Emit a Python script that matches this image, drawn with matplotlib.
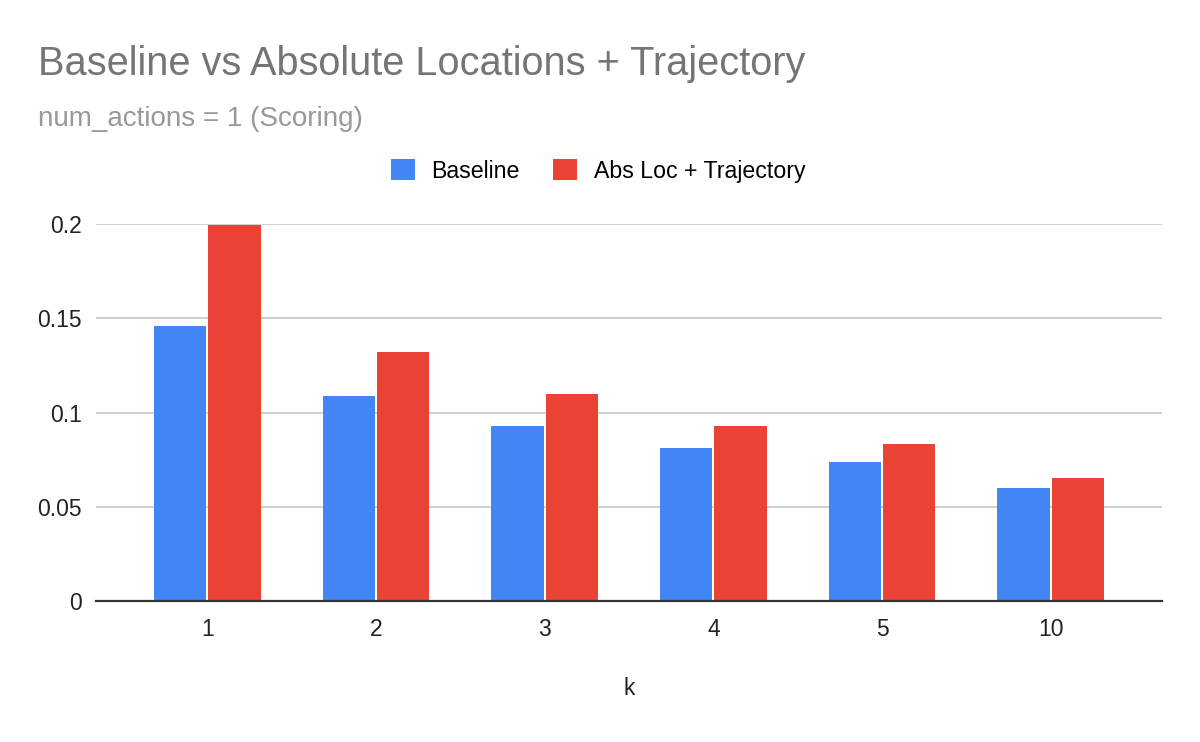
import matplotlib
matplotlib.use("Agg")
import matplotlib.pyplot as plt
import numpy as np

# data
k_labels = ['1', '2', '3', '4', '5', '10']
baseline = [0.1459, 0.1088, 0.0928, 0.0812, 0.0737, 0.0600]
abs_loc_traj = [0.1995, 0.1320, 0.1098, 0.0928, 0.0833, 0.0653]

blue = '#4285F4'
red = '#EA4335'

plt.rcParams['font.family'] = ['Liberation Sans', 'DejaVu Sans']

fig = plt.figure(figsize=(12, 7.42), dpi=100)
ax = fig.add_axes([96/1200, 1-601/742, (1162-96)/1200, (601-224)/742])

x = np.arange(len(k_labels))
w = 0.31
gap = 0.006
ax.bar(x - w/2 - gap, baseline, width=w, color=blue, label='Baseline', zorder=3, clip_on=False)
ax.bar(x + w/2 + gap, abs_loc_traj, width=w, color=red, label='Abs Loc + Trajectory', zorder=3, clip_on=False)

ax.set_xlim(-0.66, 5.66)
ax.set_ylim(0, 0.2)
ax.set_yticks([0, 0.05, 0.1, 0.15, 0.2])
ax.set_yticklabels(['0', '0.05', '0.1', '0.15', '0.2'])
ax.set_xticks(x)
ax.set_xticklabels(k_labels)
ax.tick_params(axis='both', length=0, labelsize=16.5, colors='#222222')
ax.tick_params(axis='x', pad=12)
ax.tick_params(axis='y', pad=10)

ax.grid(axis='y', color='#cccccc', linewidth=1.3, zorder=0)
for s in ['top', 'right', 'left']:
    ax.spines[s].set_visible(False)
ax.spines['bottom'].set_color('#333333')
ax.spines['bottom'].set_linewidth(1.6)
ax.spines['bottom'].set_zorder(4)

ax.set_xlabel('k', fontsize=16.5, color='#222222', labelpad=26)

fig.text(38/1200, 1-64/742, 'Baseline vs Absolute Locations + Trajectory',
         fontsize=28.6, color='#757575', va='center', ha='left')
fig.text(38/1200, 1-119/742, 'num_actions = 1 (Scoring)',
         fontsize=20, color='#999999', va='center', ha='left')

fig.legend(loc='center', bbox_to_anchor=(598/1200, 1-171/742), ncol=2, frameon=False,
           fontsize=16.7, handlelength=1.03, handleheight=1.03, handletextpad=0.73,
           columnspacing=1.42)

fig.savefig('out.png', dpi=100, facecolor='white')
